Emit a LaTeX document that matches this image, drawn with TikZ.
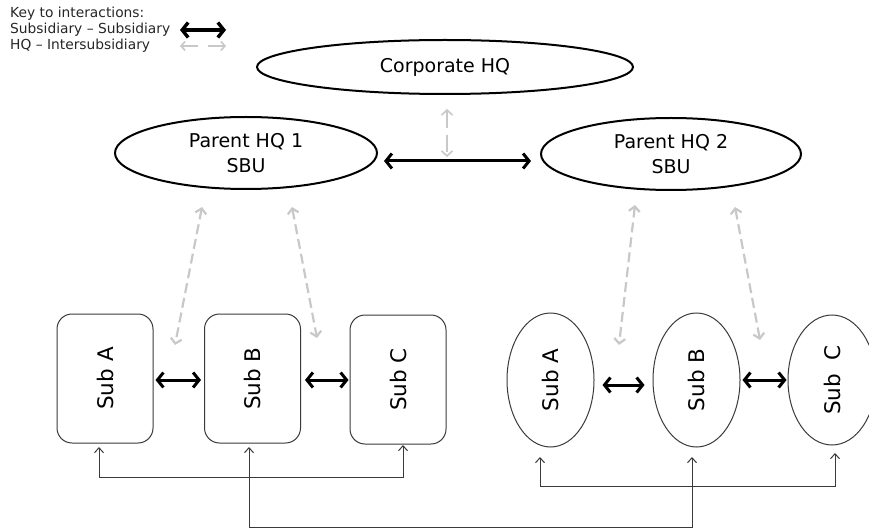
\documentclass[tikz,border=0pt]{standalone}
\usepackage{fontspec}
\usepackage{graphicx}
\setmainfont{DejaVu Sans}
\usetikzlibrary{shapes.geometric,arrows.meta,calc}

\definecolor{hqgray}{HTML}{C8C8C8}
\definecolor{edge}{HTML}{3A3A3A}

\begin{document}
\begin{tikzpicture}[x=1pt,y=-1pt,
  hq/.style={ellipse,draw=black,line width=2pt,inner sep=0pt,align=center,
    font=\fontsize{19}{25}\selectfont},
  subbox/.style={draw=edge,line width=1pt,rounded corners=15pt,
    minimum width=96pt,minimum height=129pt,inner sep=0pt,
    font=\fontsize{21.5}{25}\selectfont},
  subell/.style={ellipse,draw=edge,line width=1pt,inner sep=0pt,
    minimum width=87pt,minimum height=134pt,
    font=\fontsize{21.5}{25}\selectfont},
  subsub/.style={line width=3pt,
    {Straight Barb[length=6pt,width=15pt]}-{Straight Barb[length=6pt,width=15pt]}},
  hqsub/.style={hqgray,line width=2.2pt,dash pattern=on 10pt off 5pt,
    {Straight Barb[length=5pt,width=11pt]}-{Straight Barb[length=5pt,width=11pt]}},
  link/.style={edge,line width=1pt,
    {Straight Barb[length=5pt,width=9pt]}-{Straight Barb[length=5pt,width=9pt]}}]

\useasboundingbox (0,0) rectangle (869,529);

% key
\node[anchor=north west,align=left,inner sep=0pt,text=black!85,
  font=\fontsize{13.8}{15.8}\selectfont] (key) at (10,7)
  {Key to interactions:\\Subsidiary -- Subsidiary\\HQ -- Intersubsidiary};
\coordinate (k1l) at (180,30);
\coordinate (k1r) at (226,30);
\draw[subsub,line width=3.4pt] (k1l) -- (k1r);
\coordinate (k2l) at (180,46);
\coordinate (k2m) at (203,46);
\coordinate (k2r) at (226,46);
\draw[hqgray,line width=1.6pt,-{Straight Barb[length=4pt,width=9pt]},shorten <=5pt] (k2m) -- (k2l);
\draw[hqgray,line width=1.6pt,-{Straight Barb[length=4pt,width=9pt]},shorten <=5pt] (k2m) -- (k2r);

% headquarters
\node[hq,minimum width=376pt,minimum height=54pt] (chq) at (445,67) {Corporate HQ};
\node[hq,minimum width=262pt,minimum height=72pt] (p1) at (246,153) {Parent HQ 1\\SBU};
\node[hq,minimum width=260pt,minimum height=72pt] (p2) at (671,154) {Parent HQ 2\\SBU};

\draw[subsub] ($(p1.east)+(6,8)$) -- ($(p2.west)+(-9,7)$);
\coordinate (cv) at (447,157);
\draw[hqsub,line width=1.6pt,dash pattern=on 17pt off 7pt] ($(chq.south)+(2,14)$) -- (cv);

% subsidiaries of Parent HQ 1
\node[subbox] (sa) at (105,378.5) {\rotatebox{90}{Sub A}};
\node[subbox] (sb) at (252.5,378.5) {\rotatebox{90}{Sub B}};
\node[subbox] (sc) at (398,379.5) {\rotatebox{90}{Sub C}};

% subsidiaries of Parent HQ 2
\node[subell] (ea) at (550.5,380) {\rotatebox{90}{Sub A}};
\node[subell] (eb) at (696.5,380) {\rotatebox{90}{Sub B}};
\node[subell,minimum width=88pt,minimum height=130pt] (ec) at (832,380) {\rotatebox{90}{Sub\ \ C}};

% subsidiary - subsidiary
\draw[subsub,shorten <=2pt,shorten >=3pt] ($(sa.east)+(0,1.5)$) -- ($(sb.west)+(0,1.5)$);
\draw[subsub,shorten <=4pt,shorten >=1pt] ($(sb.east)+(0,1.5)$) -- ($(sc.west)+(0,0.5)$);
\draw[subsub] ($(ea.east)+(8,5)$) -- ($(eb.west)+(-8,5)$);
\draw[subsub,shorten <=2pt,shorten >=1pt] (eb.east) -- (ec.west);

% HQ - intersubsidiary
\coordinate (p1a) at (202,207);
\coordinate (p1b) at (175,345);
\coordinate (p1c) at (292,207);
\coordinate (p1d) at (317,338);
\coordinate (p2a) at (635,205);
\coordinate (p2b) at (619,345);
\coordinate (p2c) at (735,207);
\coordinate (p2d) at (760,340);
\draw[hqsub] (p1a) -- (p1b);
\draw[hqsub] (p1c) -- (p1d);
\draw[hqsub] (p2a) -- (p2b);
\draw[hqsub] (p2c) -- (p2d);

% links below the subsidiaries
\coordinate (ta) at (99,447);
\coordinate (tc) at (403,445);
\draw[link] (ta) -- (ta |- 0,477) -- (tc |- 0,477) -- (tc);
\coordinate (tb) at (249,447);
\coordinate (te) at (692,457);
\draw[link] (tb) -- (tb |- 0,527) -- (te |- 0,527) -- (te);
\coordinate (tf) at (540,457);
\coordinate (tg) at (835,453);
\draw[link] (tf) -- (tf |- 0,486) -- (tg |- 0,486) -- (tg);
\end{tikzpicture}
\end{document}
